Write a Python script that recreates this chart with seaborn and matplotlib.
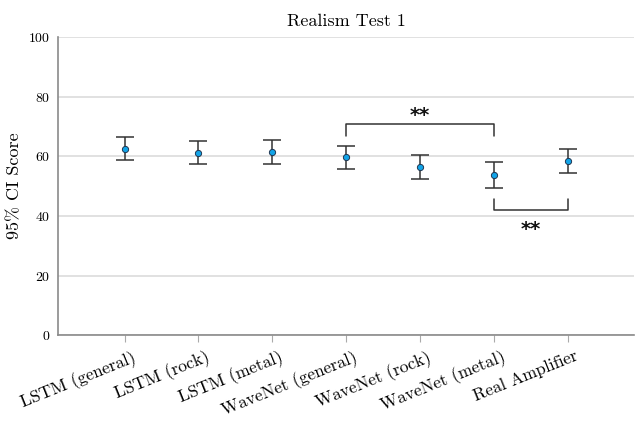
import matplotlib
matplotlib.use('Agg')
import matplotlib.pyplot as plt
import matplotlib.transforms as mtransforms
import seaborn as sns
import pandas as pd

# Data
models = ['LSTM (general)', 'LSTM (rock)', 'LSTM (metal)', 'WaveNet (general)',
          'WaveNet (rock)', 'WaveNet (metal)', 'Real Amplifier']
means = [62.6, 61.1, 61.4, 59.8, 56.5, 53.8, 58.4]
ci_low = [58.8, 57.3, 57.5, 55.6, 52.3, 49.4, 54.4]
ci_high = [66.4, 65.0, 65.3, 63.6, 60.5, 58.0, 62.4]
y_ticks = [0, 20, 40, 60, 80, 100]

# significance brackets: (left index, right index, bar y, leg end y, star y)
brackets = [(3, 5, 70.8, 66.8, 73.8), (5, 6, 42.0, 45.5, 35.6)]

sns.set_style('white')
plt.rcParams['font.family'] = ['cmr10', 'DejaVu Serif']
plt.rcParams['axes.formatter.use_mathtext'] = True
plt.rcParams['text.color'] = 'black'
plt.rcParams['axes.labelcolor'] = 'black'
plt.rcParams['xtick.color'] = 'black'
plt.rcParams['ytick.color'] = 'black'

df = pd.DataFrame({'model': models, 'score': means})

fig = plt.figure(figsize=(6.38, 4.21), dpi=100)
ax = fig.add_axes([0.091, 0.204, 0.903, 0.708])

xs = list(range(len(models)))
yerr = [[m - lo for m, lo in zip(means, ci_low)], [hi - m for m, hi in zip(means, ci_high)]]
ax.errorbar(xs, means, yerr=yerr, fmt='none', ecolor='#333333', elinewidth=1.1,
            capsize=6.5, capthick=1.1, zorder=2)
sns.scatterplot(data=df, x='model', y='score', ax=ax, color='#12a4e8', edgecolor='#1f3550',
                linewidth=0.7, s=20, zorder=3)

for a, b, yh, yl, ys in brackets:
    ax.plot([a, a, b, b], [yl, yh, yh, yl], color='#333333', lw=1.1)
    ax.text((a + b) / 2, ys, '**', ha='center', va='center', fontsize=14,
            family='DejaVu Sans', fontweight='bold', color='#111111')

ax.set_xlim(-0.9, 6.9)
ax.set_ylim(0, 100)
ax.set_yticks(y_ticks)
ax.yaxis.grid(True, color='#dcdcdc', lw=1.2)
ax.set_axisbelow(True)
for s in ['top', 'right']:
    ax.spines[s].set_visible(False)
for s in ['left', 'bottom']:
    ax.spines[s].set_color('#8a8a8a')
    ax.spines[s].set_linewidth(1.2)

ax.tick_params(axis='x', bottom=True, length=5, color='#aaaaaa', labelsize=12.5, pad=3)
ax.tick_params(axis='y', left=False, labelsize=10, pad=2)
ax.set_xticks(xs)
ax.set_xticklabels(models, rotation=22, ha='right', rotation_mode='anchor')
shift = mtransforms.ScaledTranslation(0.07, -0.02, fig.dpi_scale_trans)
for lbl in ax.get_xticklabels():
    lbl.set_transform(lbl.get_transform() + shift)
ax.set_xlabel('')
ax.set_ylabel('95% CI Score', fontsize=13)
ax.set_title('Realism Test 1', fontsize=13, pad=8)

fig.savefig('out.png', dpi=100)
